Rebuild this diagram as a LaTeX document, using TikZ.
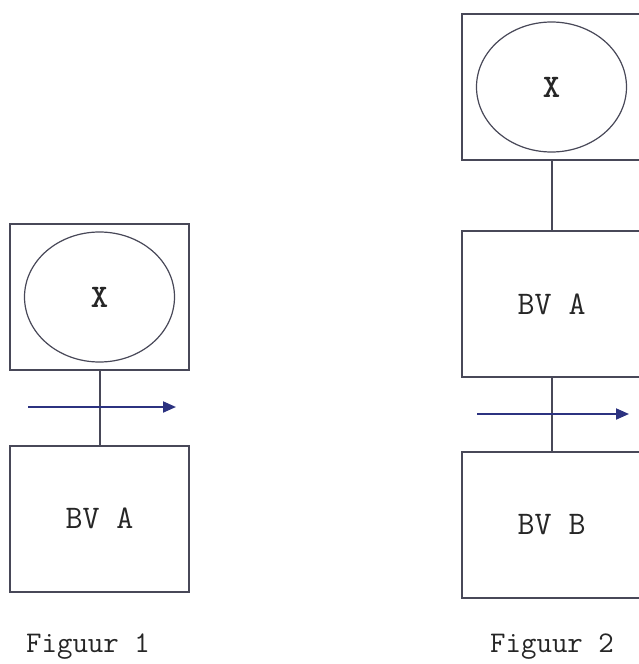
\documentclass[tikz,border=0pt]{standalone}
\usepackage{fontspec}
\usetikzlibrary{arrows.meta}
\usetikzlibrary{positioning}
\usetikzlibrary{shapes.geometric}

\definecolor{lijn}{RGB}{72,72,88}
\definecolor{pijl}{RGB}{44,50,128}

\begin{document}
\begin{tikzpicture} [x=1pt, y=-1pt,
  kader/.style={draw=lijn, line width=2pt, minimum width=179pt, minimum height=146pt, inner sep=0pt, font=\ttfamily\fontsize{33}{35}\selectfont, text=black!85},
  bol/.style={draw=lijn, line width=1.2pt, ellipse, minimum width=150pt, minimum height=130pt, inner sep=0pt, font=\ttfamily\bfseries\fontsize{33}{35}\selectfont, text=black!85},
  verband/.style={draw=lijn, line width=2pt},
  stroom/.style={draw=pijl, line width=2pt, -{Triangle[length=13pt, width=11pt]}},
  bijschrift/.style={font=\ttfamily\fontsize{30}{32}\selectfont, text=black!85}
]
\useasboundingbox (0,0) rectangle (638,664);
% figuur 1
\node[kader] (xkader1) at (99.5,297) {};
\node[bol] (x1) at (99.5,297) {X};
\node[kader] (bva1) at (99.5,518.5) {BV A};
\draw[verband] (xkader1.south) -- (bva1.north);
\coordinate (in1) at (28,407);
\coordinate (uit1) at (176,407);
\draw[stroom] (in1) -- (uit1);
\node[bijschrift] (cap1) at (88,647) {Figuur 1};
% figuur 2
\node[kader] (xkader2) at (551.5,87) {};
\node[bol] (x2) at (551.5,87) {X};
\node[kader] (bva2) at (551.5,304) {BV A};
\node[kader] (bvb2) at (551.5,524.5) {BV B};
\draw[verband] (xkader2.south) -- (bva2.north);
\draw[verband] (bva2.south) -- (bvb2.north);
\coordinate (in2) at (477,414);
\coordinate (uit2) at (629,414);
\draw[stroom] (in2) -- (uit2);
\node[bijschrift] (cap2) at (552,647) {Figuur 2};
\end{tikzpicture}
\end{document}
